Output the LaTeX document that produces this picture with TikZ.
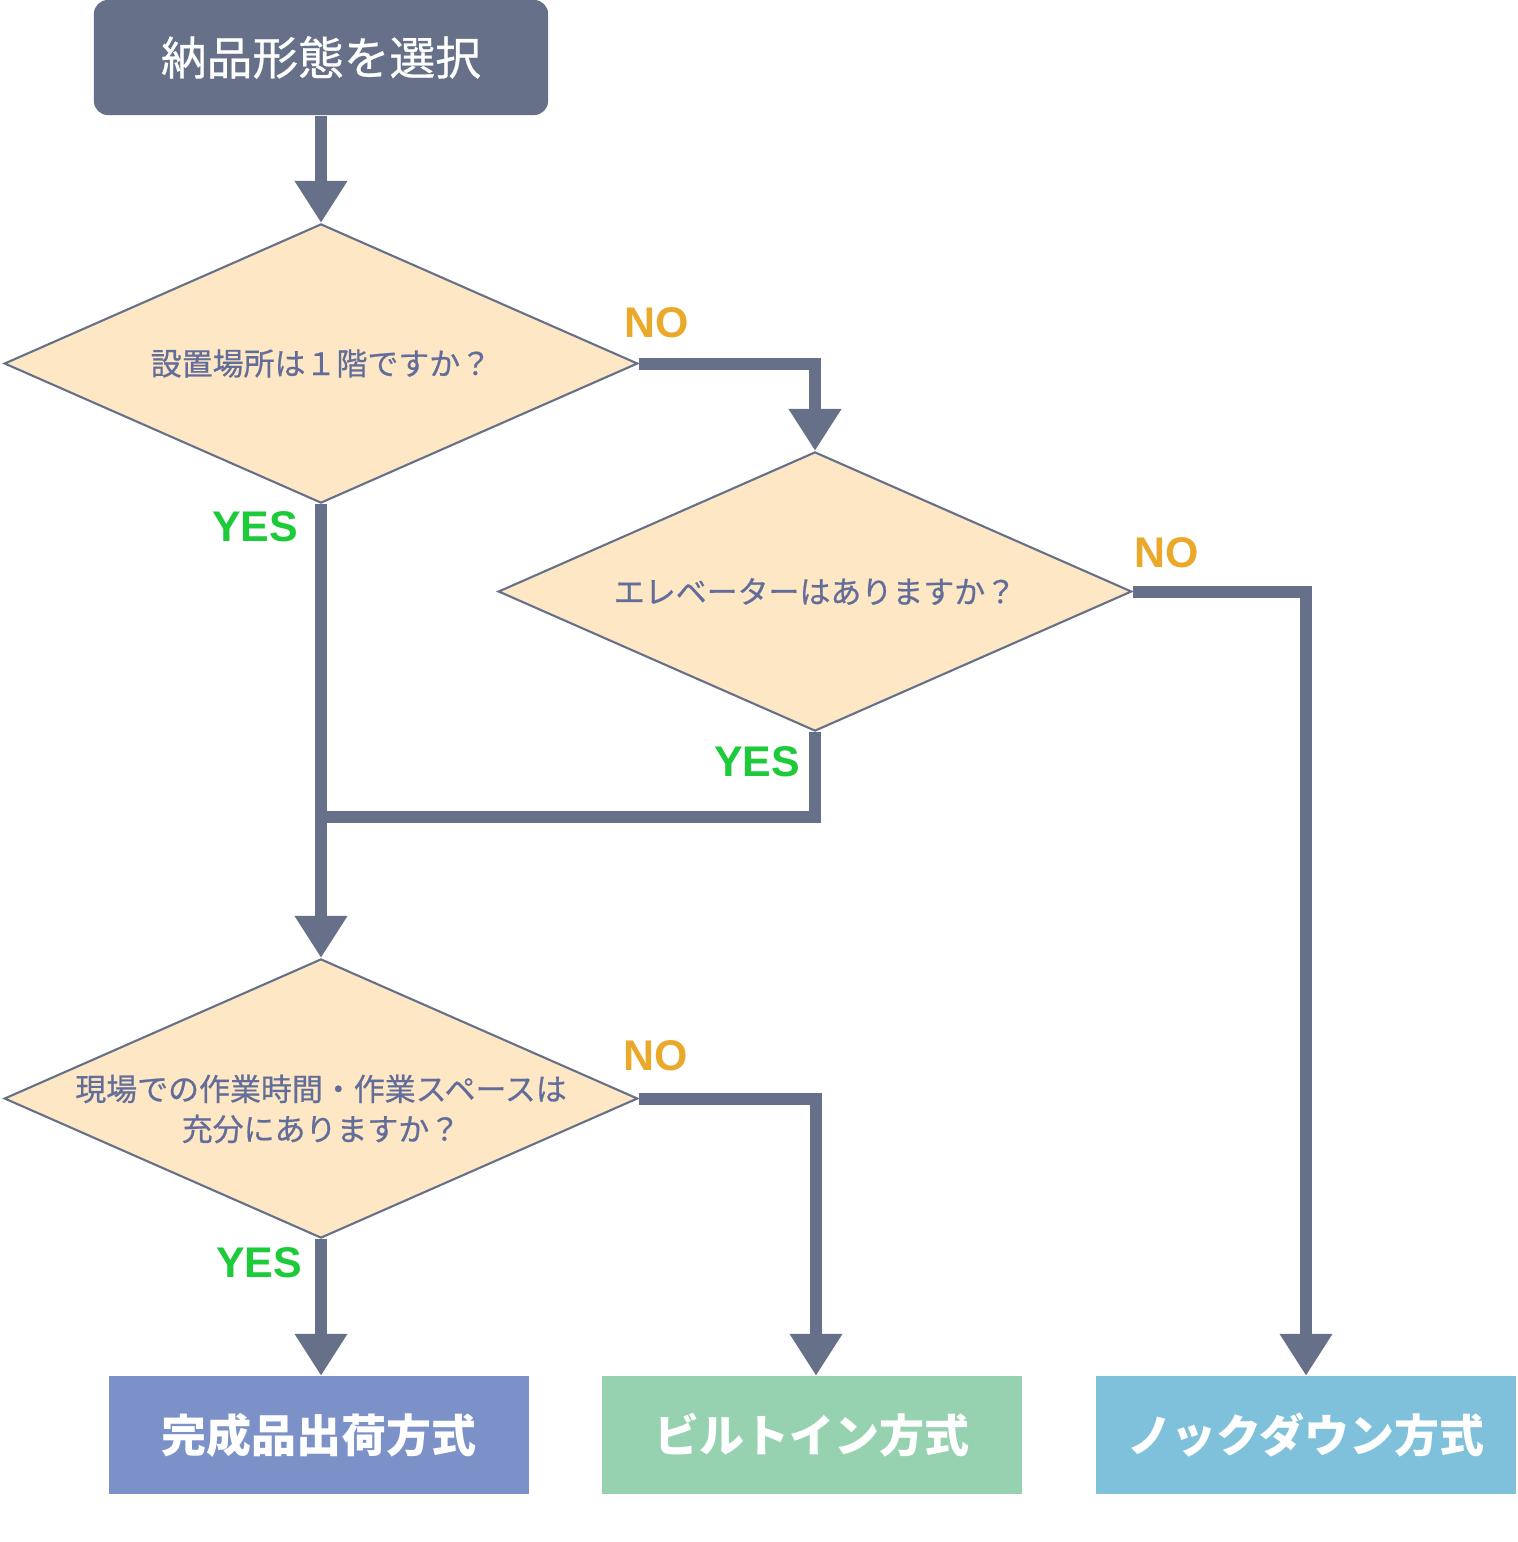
\documentclass[tikz,border=0pt]{standalone}
\usepackage{fontspec}
\setmainfont{Noto Sans CJK JP}
\newfontfamily\askfont[FakeBold=0.6]{Noto Sans CJK JP}
\newfontfamily\yesnofont{Liberation Sans}
\usetikzlibrary{positioning,shapes.geometric,arrows.meta}
\definecolor{slate}{HTML}{667089}
\definecolor{asktext}{HTML}{636D99}
\definecolor{cream}{HTML}{FDE7C4}
\definecolor{yesgreen}{HTML}{1DCB3A}
\definecolor{noorange}{HTML}{EBA92B}
\definecolor{kanseiblue}{HTML}{7B91C8}
\definecolor{builtgreen}{HTML}{96D2B0}
\definecolor{knockblue}{HTML}{7FC1DB}

\begin{document}
\begin{tikzpicture}[x=0.01cm,y=-0.01cm,
		ask/.style={diamond,aspect=2.27,draw=slate,line width=0.6pt,fill=cream,text=asktext,
			font=\askfont\fontsize{8.8}{11.4}\selectfont,align=center,inner xsep=0pt,inner ysep=-10pt,
			minimum width=6.33cm,minimum height=2.79cm},
		result/.style={rectangle,minimum width=4.2cm,minimum height=1.17cm,text=white,
			font=\fontsize{12.8}{14}\selectfont\bfseries},
		yes/.style={text=yesgreen,font=\yesnofont\fontsize{12.2}{12}\selectfont\bfseries},
		no/.style={text=noorange,font=\yesnofont\fontsize{12.2}{12}\selectfont\bfseries},
		flow/.style={draw=slate,line width=0.12cm,-{Triangle[width=0.5cm,length=0.42cm]}},
		link/.style={draw=slate,line width=0.12cm}]
	\useasboundingbox (0,0) rectangle (1517,1542);

	\node (start) [rectangle,rounded corners=0.14cm,fill=slate,text=white,minimum width=4.54cm,
		minimum height=1.15cm,font=\askfont\fontsize{13}{14}\selectfont] at (321,57.5) {納品形態を選択};
	\node (q1) [ask] at (321,363.5) {設置場所は１階ですか？};
	\node (q2) [ask] at (815,591.5) {エレベーターはありますか？};
	\node (q3) [ask] at (321,1098.5) {\raisebox{-0.22cm}[0pt][0pt]{\begin{tabular}{@{}c@{}}
		現場での作業時間・作業スペースは\\充分にありますか？\end{tabular}}};
	\node (kansei) [result,fill=kanseiblue] at (319,1435) {完成品出荷方式};
	\node (builtin) [result,fill=builtgreen] at (812,1435) {ビルトイン方式};
	\node (knock) [result,fill=knockblue] at (1306,1435) {ノックダウン方式};
	\coordinate (join) at (321,817);

	\node (no1) [no] at (657,323) {NO};
	\node (yes1) [yes] at (255,527) {YES};
	\node (no2) [no] at (1167,553) {NO};
	\node (yes2) [yes] at (757,762) {YES};
	\node (no3) [no] at (656,1056) {NO};
	\node (yes3) [yes] at (259,1263) {YES};

	\draw[flow] (start.south) -- (q1.north);
	\draw[flow] (q1.east) -| (q2.north);
	\draw[flow] (q2.east) -| (knock.north);
	\draw[link] (q2.south) |- (join);
	\draw[flow] (q1.south) -- (q3.north);
	\draw[flow] (q3.east) -| ([xshift=0.04cm]builtin.north);
	\draw[flow] (q3.south) -- (q3.south |- kansei.north);
\end{tikzpicture}
\end{document}
